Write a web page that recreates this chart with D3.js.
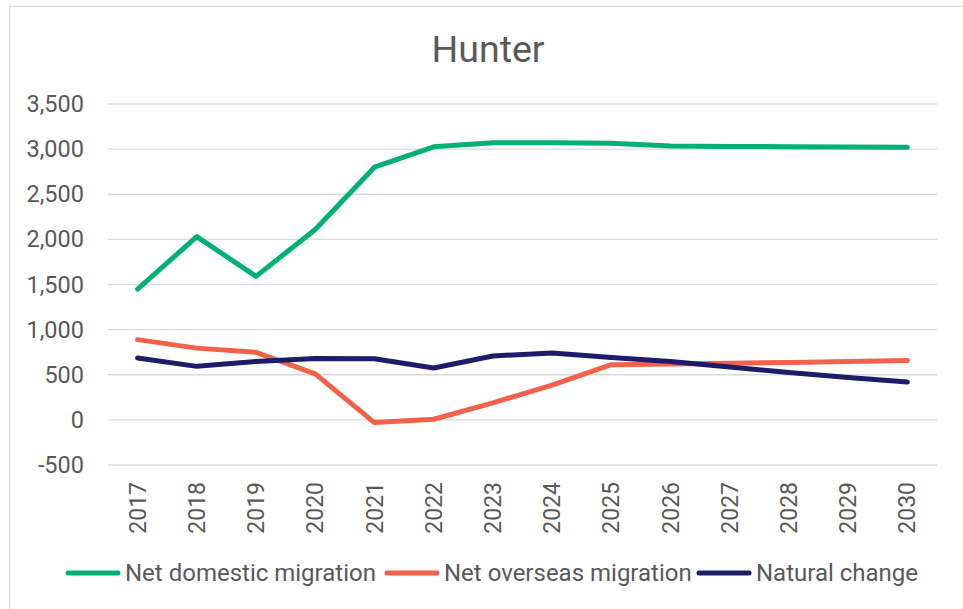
<!DOCTYPE html>
<html>
<head>
<meta charset="utf-8">
<script src="https://cdn.jsdelivr.net/npm/d3@7"></script>
<style>
  body { margin: 0; background: #fff; }
  svg { font-family: Roboto, "Open Sans", sans-serif; }
</style>
</head>
<body>
<svg id="chart" width="963" height="609"></svg>
<script>
const years = ["2017","2018","2019","2020","2021","2022","2023","2024","2025","2026","2027","2028","2029","2030"];
const domestic = [1450, 2030, 1590, 2110, 2800, 3025, 3070, 3070, 3065, 3035, 3030, 3027, 3024, 3022];
const overseas = [889, 795, 748, 510, -30, 7, 189, 385, 611, 620, 628, 637, 646, 658];
const natural = [685, 593, 648, 681, 678, 574, 708, 741, 692, 648, 585, 526, 470, 419];
const yTicks = [-500, 0, 500, 1000, 1500, 2000, 2500, 3000, 3500];

const series = [
  { name: "Net domestic migration", values: domestic, color: "#00b077" },
  { name: "Net overseas migration", values: overseas, color: "#f4614a" },
  { name: "Natural change", values: natural, color: "#1c1c6b" }
];

const svg = d3.select("#chart");
const textColor = "#595959";
const fmt = d3.format(",");

// outer frame
svg.append("rect")
  .attr("x", 9.5).attr("y", 6.5)
  .attr("width", 970).attr("height", 620)
  .attr("fill", "none").attr("stroke", "#d9d9d9").attr("stroke-width", 1.3);

const x = d3.scaleBand().domain(years).range([108, 937]).padding(0);
const y = d3.scaleLinear().domain([-500, 3500]).range([465, 104]);

// title
svg.append("text")
  .attr("x", 488).attr("y", 62)
  .attr("text-anchor", "middle")
  .attr("fill", textColor)
  .style("font-size", "37.5px")
  .text("Hunter");

// gridlines
svg.append("g").selectAll("line")
  .data(yTicks).join("line")
  .attr("x1", 108).attr("x2", 937)
  .attr("y1", d => y(d)).attr("y2", d => y(d))
  .attr("stroke", "#d9d9d9").attr("stroke-width", 1.3);

// y axis
const yAxis = svg.append("g")
  .attr("transform", "translate(108,0)")
  .call(d3.axisLeft(y).tickValues(yTicks).tickSize(0).tickPadding(24)
    .tickFormat(d => fmt(d).replace("\u2212", "-")));
yAxis.select(".domain").remove();
yAxis.selectAll("text")
  .attr("fill", textColor)
  .style("font-size", "23.5px")
  .style("font-family", "Roboto, sans-serif");

// x axis
const xAxis = svg.append("g")
  .attr("transform", "translate(0,465)")
  .call(d3.axisBottom(x).tickSize(0).tickPadding(0));
xAxis.select(".domain").remove();
xAxis.selectAll("text")
  .attr("fill", textColor)
  .style("font-size", "23px")
  .style("font-family", "Roboto, sans-serif")
  .attr("transform", "rotate(-90)")
  .attr("text-anchor", "end")
  .attr("x", -17)
  .attr("y", 0)
  .attr("dy", "0.35em");

// lines
const line = d3.line()
  .x((d, i) => x(years[i]) + x.bandwidth() / 2)
  .y(d => y(d));

svg.append("g").selectAll("path")
  .data(series).join("path")
  .attr("d", d => line(d.values))
  .attr("fill", "none")
  .attr("stroke", d => d.color)
  .attr("stroke-width", 5)
  .attr("stroke-linecap", "round")
  .attr("stroke-linejoin", "round");

// legend
const legendX = [66, 385, 697];
const legend = svg.append("g").selectAll("g")
  .data(series).join("g")
  .attr("transform", (d, i) => `translate(${legendX[i]},573)`);
legend.append("line")
  .attr("x1", 2).attr("x2", 52)
  .attr("stroke", d => d.color)
  .attr("stroke-width", 5)
  .attr("stroke-linecap", "round");
legend.append("text")
  .attr("x", 59).attr("dy", "0.35em")
  .attr("fill", textColor)
  .style("font-size", "24px")
  .text(d => d.name);
</script>
</body>
</html>
